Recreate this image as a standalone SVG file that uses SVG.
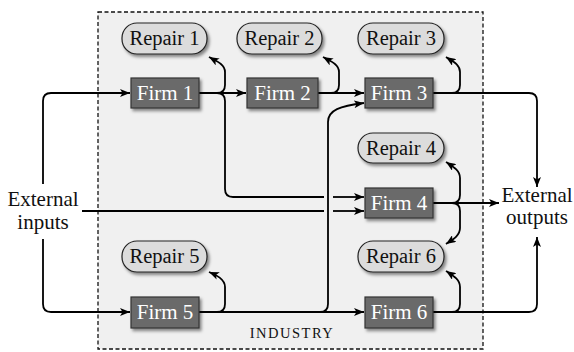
<svg xmlns="http://www.w3.org/2000/svg" width="574" height="352" viewBox="0 0 574 352">
<defs>
<filter id="sh" x="-20%" y="-20%" width="150%" height="160%">
<feDropShadow dx="2" dy="2.5" stdDeviation="1.5" flood-color="#000" flood-opacity="0.45"/>
</filter>
<marker id="ah" viewBox="0 0 10 8" refX="10" refY="4" markerWidth="10" markerHeight="8" markerUnits="userSpaceOnUse" orient="auto">
<path d="M0,0 L10,4 L0,8 L2.5,4 z" fill="#000"/>
</marker>
<style>
.firm rect{fill:#6b6b6b;stroke:#333;stroke-width:1.2;filter:url(#sh)}
.firm text{fill:#fff;font-family:"Liberation Serif",serif;font-size:21px;text-anchor:middle}
.rep rect{fill:#dcdcdc;stroke:#222;stroke-width:1.2;filter:url(#sh)}
.rep text{fill:#111;font-family:"Liberation Serif",serif;font-size:20.5px;text-anchor:middle}
.lbl{fill:#111;font-family:"Liberation Serif",serif;font-size:21px;text-anchor:middle}
.c path{fill:none;stroke:#000;stroke-width:1.8}
.c path.a{marker-end:url(#ah)}
</style>
</defs>
<rect id="industry" x="98" y="12" width="385" height="337" fill="#f0f0f0" stroke="#111" stroke-width="1.3" stroke-dasharray="4,2.5"/>
<text x="292" y="338" style="font-family:'Liberation Serif',serif;font-size:14.5px;letter-spacing:1.5px;text-anchor:middle;fill:#111">INDUSTRY</text>

<g class="c" id="connectors">
<path class="a" d="M43 184 V101 Q43 93 51 93 H130"/>
<path class="a" d="M43 239 V304 Q43 312 51 312 H130"/>
<path d="M82 211 H324"/>
<path class="a" d="M333 211 H364"/>
<path class="a" d="M199 93 H246"/>
<path class="a" d="M199 93 H217 Q225 93 225 85 V72 C225 64 216 61 209 57"/>
<path d="M217 93 Q225 93 225 101 V189 Q225 197 233 197 H324"/>
<path class="a" d="M333 197 H364"/>
<path class="a" d="M318 93 H364"/>
<path class="a" d="M318 93 H331 Q339 93 339 85 V72 C339 64 330 61 323 57"/>
<path class="a" d="M433 93 H452 Q460 93 460 85 V72 C460 64 452 61 446 57"/>
<path class="a" d="M433 93 H529 Q537 93 537 101 V187"/>
<path class="a" d="M433 203 H499"/>
<path class="a" d="M433 203 H452 Q460 203 460 195 V178 C460 170 452 166 446 162"/>
<path class="a" d="M452 203 Q460 203 460 211 V228 C460 236 452 240 446 244"/>
<path class="a" d="M199 312 H364"/>
<path class="a" d="M199 312 H217 Q225 312 225 304 V287 C225 279 216 275 209 272"/>
<path class="a" d="M310 312 H320 Q328 312 328 304 V122 C328 110 340 106 364 103"/>
<path class="a" d="M433 312 H452 Q460 312 460 304 V287 C460 279 452 275 446 271"/>
<path class="a" d="M433 312 H529 Q537 312 537 304 V237"/>
</g>

<g id="repair1" class="rep"><rect x="122" y="23" width="85" height="31" rx="15"/><text x="164.5" y="45">Repair 1</text></g>
<g id="repair2" class="rep"><rect x="237" y="23" width="85" height="31" rx="15"/><text x="279.5" y="45">Repair 2</text></g>
<g id="repair3" class="rep"><rect x="358" y="23" width="86" height="31" rx="15"/><text x="401" y="45">Repair 3</text></g>
<g id="repair4" class="rep"><rect x="358" y="133" width="86" height="30" rx="15"/><text x="401" y="155">Repair 4</text></g>
<g id="repair5" class="rep"><rect x="122" y="241" width="85" height="31" rx="15"/><text x="164.5" y="263">Repair 5</text></g>
<g id="repair6" class="rep"><rect x="358" y="241" width="86" height="31" rx="15"/><text x="401" y="263">Repair 6</text></g>

<g id="firm1" class="firm"><rect x="131" y="78" width="68" height="30"/><text x="165" y="100">Firm 1</text></g>
<g id="firm2" class="firm"><rect x="247" y="78" width="71" height="30"/><text x="282.5" y="100">Firm 2</text></g>
<g id="firm3" class="firm"><rect x="365" y="78" width="68" height="30"/><text x="399" y="100">Firm 3</text></g>
<g id="firm4" class="firm"><rect x="365" y="188" width="68" height="30"/><text x="399" y="210">Firm 4</text></g>
<g id="firm5" class="firm"><rect x="131" y="297" width="68" height="31"/><text x="165" y="319">Firm 5</text></g>
<g id="firm6" class="firm"><rect x="365" y="297" width="68" height="31"/><text x="399" y="319">Firm 6</text></g>

<g id="ext-in"><text class="lbl" x="43" y="206">External</text><text class="lbl" x="43" y="229">inputs</text></g>
<g id="ext-out"><text class="lbl" x="537" y="202">External</text><text class="lbl" x="537" y="224">outputs</text></g>
</svg>
